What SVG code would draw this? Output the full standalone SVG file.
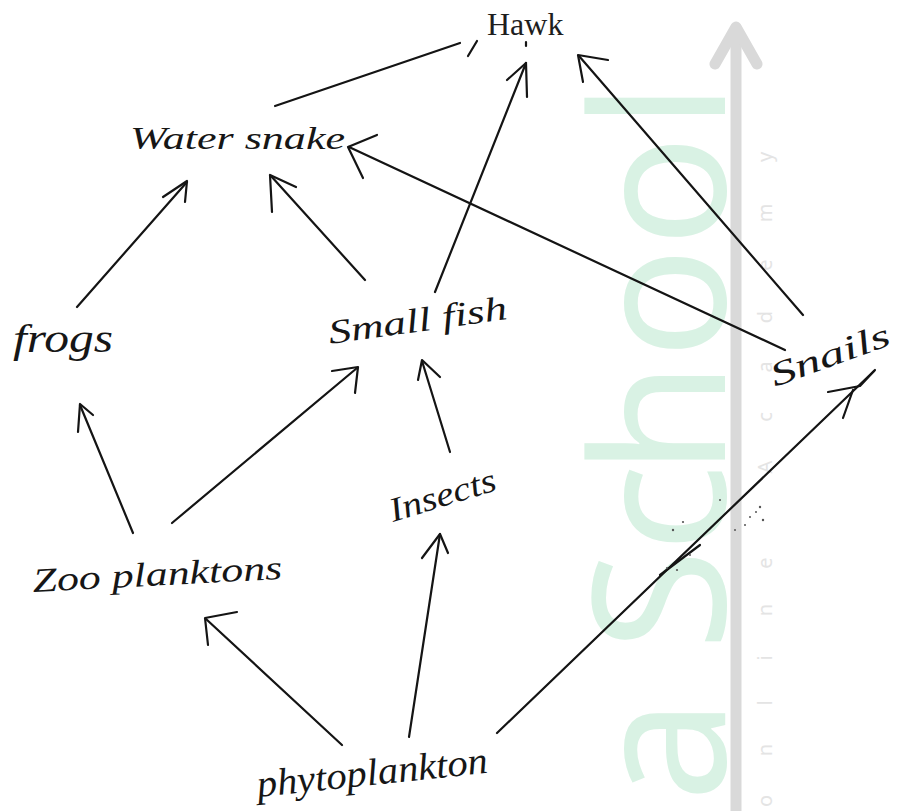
<svg xmlns="http://www.w3.org/2000/svg" width="898" height="811" viewBox="0 0 898 811">
  <style>
    .hand { font-family: "Liberation Serif", "DejaVu Serif", serif; font-style: italic; fill: #161616; }
    .print { font-family: "Liberation Serif", "Times New Roman", serif; fill: #1e1e1e; }
    .conn path { fill: none; stroke: #141414; stroke-width: 2.2; stroke-linecap: round; stroke-linejoin: round; }
    .wm-green { font-family: "Noto Sans", "Open Sans", sans-serif; font-size: 185px; fill: #d9f2e4; }
    .wm-gray { font-family: "Noto Sans", "Open Sans", sans-serif; font-size: 20px; fill: #e4e4e4; }
    .smudge circle { fill: #555; }
  </style>
  <rect width="898" height="811" fill="#ffffff"/>

  <g id="watermark">
    <text class="wm-green" transform="translate(725,0) rotate(-90)" text-anchor="middle" x="-750 -675 -600 -508 -418 -303 -191 -106" y="0">a School</text>
    <path d="M736 811 L736 30" stroke="#d9d9d9" stroke-width="11" fill="none"/>
    <path d="M715 64 L736 27 L757 64" stroke="#d9d9d9" stroke-width="11" fill="none" stroke-linecap="round" stroke-linejoin="round"/>
    <text class="wm-gray" transform="translate(772,0) rotate(-90)" text-anchor="middle" x="-801 -750 -703 -658 -610 -563 -515 -467 -417 -367 -317 -265 -213 -157" y="0">online Academy</text>
  </g>

  <g id="connectors" class="conn">
    <g id="ws-hawk"><path d="M275 106 L460 43"/><path d="M468 56 L477 41"/><path d="M526 42 L526 46"/></g>
    <g id="sf-hawk"><path d="M435 292 L526 63"/><path d="M507 80 L526 63 L527 97"/></g>
    <g id="sn-hawk"><path d="M803 315 L579 56"/><path d="M608 60 L578 55 L583 82"/></g>
    <g id="sn-ws"><path d="M785 350 L349 147"/><path d="M377 135 L348 147 L363 178"/></g>
    <g id="fr-ws"><path d="M77 307 L187 182"/><path d="M163 197 L187 181 L185 202"/></g>
    <g id="sf-ws"><path d="M365 280 L271 176"/><path d="M296 187 L270 175 L272 212"/></g>
    <g id="zp-fr"><path d="M133 533 L80 405"/><path d="M93 415 L80 404 L78 432"/></g>
    <g id="zp-sf"><path d="M172 523 L357 368"/><path d="M332 371 L358 367 L355 393"/></g>
    <g id="in-sf"><path d="M450 452 L422 361"/><path d="M418 380 L422 360 L440 377"/></g>
    <g id="ph-zp"><path d="M342 745 L206 619"/><path d="M237 612 L205 618 L208 645"/></g>
    <g id="ph-in"><path d="M409 737 L440 534"/><path d="M422 558 L440 534 L448 553"/></g>
    <g id="ph-sn"><path d="M497 733 L874 371"/><path d="M828 392 L860 386 L875 370 M853 390 L843 418"/><path d="M660 575 L700 545" stroke-width="3"/></g>
  </g>

  <g class="smudge">
    <circle cx="760" cy="507" r="1.2"/><circle cx="763" cy="520" r="1.2"/><circle cx="750" cy="517" r="1"/>
    <circle cx="756" cy="512" r="1"/><circle cx="673" cy="530" r="1.2"/><circle cx="683" cy="522" r="1.1"/>
    <circle cx="720" cy="500" r="1"/><circle cx="735" cy="530" r="1"/><circle cx="677" cy="570" r="1.1"/>
    <circle cx="667" cy="568" r="1"/><circle cx="690" cy="555" r="1"/><circle cx="745" cy="525" r="1"/>
  </g>

  <g id="hawk"><text class="print" x="487" y="35" font-size="32">Hawk</text></g>
  <g id="water-snake"><text class="hand" x="130" y="149" font-size="32" textLength="215" lengthAdjust="spacingAndGlyphs">Water snake</text></g>
  <g id="frogs"><text class="hand" x="13" y="352" font-size="40" textLength="100" lengthAdjust="spacingAndGlyphs">frogs</text></g>
  <g id="small-fish"><text class="hand" x="330" y="344" font-size="34" textLength="180" lengthAdjust="spacingAndGlyphs" transform="rotate(-8 330 344)">Small fish</text></g>
  <g id="snails"><text class="hand" x="775" y="387" font-size="34" textLength="125" lengthAdjust="spacingAndGlyphs" transform="rotate(-20 775 387)">Snails</text></g>
  <g id="zoo-planktons"><text class="hand" x="33" y="592" font-size="34" textLength="250" lengthAdjust="spacingAndGlyphs" transform="rotate(-3 33 592)">Zoo planktons</text></g>
  <g id="insects"><text class="hand" x="393" y="522" font-size="34" textLength="110" lengthAdjust="spacingAndGlyphs" transform="rotate(-17 393 522)">Insects</text></g>
  <g id="phytoplankton"><text class="hand" x="258" y="797" font-size="38" textLength="232" lengthAdjust="spacingAndGlyphs" transform="rotate(-6 258 797)">phytoplankton</text></g>
</svg>
